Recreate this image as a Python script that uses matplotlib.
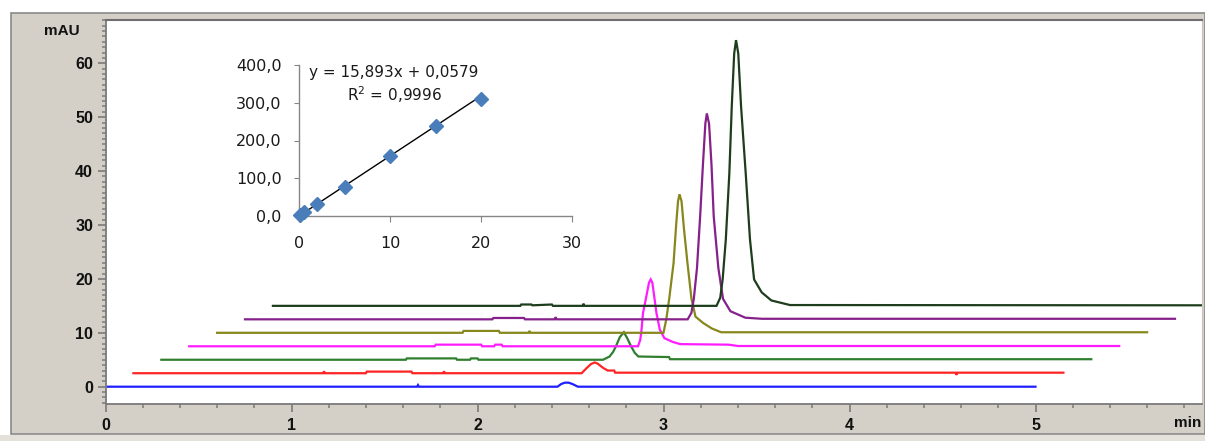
import numpy as np
import matplotlib.pyplot as plt
from matplotlib.patches import Rectangle

# chromatogram traces, run time (min) and signal above own baseline (mAU)
blue_t = [0, 1.675, 1.68, 1.685, 2.43, 2.45, 2.47, 2.49, 2.51, 2.54, 5.0]
blue_y = [0, 0, 0.3, 0, 0, 0.5, 0.75, 0.75, 0.5, 0, 0]

red_t = [0, 1.02, 1.025, 1.03, 1.25, 1.255, 1.495, 1.50, 1.665, 1.67, 1.675,
         2.41, 2.435, 2.46, 2.48, 2.495, 2.525, 2.55, 2.585, 2.59, 4.42, 4.425, 4.43, 5.0]
red_y = [0, 0, 0.35, 0, 0, 0.3, 0.3, 0, 0, 0.35, 0,
         0, 0.9, 1.7, 2.0, 1.8, 1.0, 0.5, 0.5, 0.1, 0.1, -0.3, 0.1, 0.1]

green_t = [0, 1.315, 1.32, 1.585, 1.59, 1.66, 1.665, 1.70, 1.705,
           2.375, 2.41, 2.43, 2.445, 2.465, 2.487, 2.505, 2.525, 2.545, 2.565, 2.73, 2.735, 5.0]
green_y = [0, 0, 0.25, 0.25, 0, 0, 0.25, 0.25, 0,
           0, 0.6, 1.5, 2.55, 4.2, 5.1, 4.0, 2.55, 1.3, 0.6, 0.5, 0.1, 0.1]

magenta_t = [0, 1.32, 1.325, 1.57, 1.575, 1.64, 1.645, 1.68, 1.685,
             2.413, 2.425, 2.432, 2.44, 2.458, 2.472, 2.481, 2.49, 2.50, 2.512, 2.53, 2.555,
             2.60, 2.64, 2.90, 2.95, 5.0]
magenta_y = [0, 0, 0.3, 0.3, 0, 0, 0.3, 0.3, 0,
             0, 1.2, 3.1, 6.2, 9.3, 11.8, 12.4, 11.8, 9.3, 6.2, 3.1, 1.5,
             0.8, 0.4, 0.3, 0.05, 0.05]

olive_t = [0, 1.32, 1.325, 1.515, 1.52, 1.675, 1.68, 1.685,
           2.40, 2.415, 2.431, 2.454, 2.468, 2.478, 2.486, 2.497, 2.51, 2.529, 2.55, 2.572,
           2.614, 2.66, 2.71, 5.0]
olive_y = [0, 0, 0.35, 0.35, 0, 0, 0.35, 0,
           0, 2.5, 6.4, 12.9, 20.0, 24.4, 25.7, 24.4, 19.3, 12.9, 6.4, 3.0,
           1.8, 0.8, 0.1, 0.1]

purple_t = [0, 1.33, 1.335, 1.50, 1.505, 1.665, 1.67, 1.675,
            2.38, 2.40, 2.413, 2.43, 2.447, 2.462, 2.475, 2.483, 2.495, 2.508, 2.52, 2.545,
            2.57, 2.61, 2.69, 2.78, 5.0]
purple_y = [0, 0, 0.25, 0.25, 0, 0, 0.4, 0,
            0, 1.2, 3.8, 9.5, 19.1, 28.7, 36.3, 38.2, 36.3, 28.7, 19.1, 9.5,
            3.8, 1.5, 0.3, 0.1, 0.1]

dkgreen_t = [0, 1.33, 1.335, 1.39, 1.395, 1.50, 1.505, 1.665, 1.67, 1.675,
             2.385, 2.405, 2.418, 2.435, 2.454, 2.467, 2.48, 2.49, 2.502, 2.517, 2.542,
             2.565, 2.587, 2.628, 2.68, 2.78, 5.0]
dkgreen_y = [0, 0, 0.25, 0.25, 0.1, 0.25, 0, 0, 0.4, 0,
             0, 1.5, 4.9, 12.3, 24.6, 37.0, 46.8, 49.3, 46.8, 37.0, 24.6,
             12.3, 4.9, 2.5, 1.0, 0.15, 0.1]

traces = [(blue_t, blue_y), (red_t, red_y), (green_t, green_y), (magenta_t, magenta_y),
          (olive_t, olive_y), (purple_t, purple_y), (dkgreen_t, dkgreen_y)]
x_shift = [0, 0.15, 0.30, 0.45, 0.60, 0.75, 0.90]
y_shift = [0, 2.5, 5.0, 7.5, 10.0, 12.5, 15.0]
colors = ['#1f1fff', '#ff2424', '#2f7f2f', '#ff1cff', '#87871e', '#86208a', '#1d3d1d']

# calibration inset
conc = [0.1, 0.5, 2, 5, 10, 15, 20]
area = [2.0, 9.5, 31.0, 76.0, 158.0, 239.0, 311.0]
slope, intercept = 15.893, 0.0579
eq_text = 'y = 15,893x + 0,0579'
r2_text = 'R$^2$ = 0,9996'

W, H = 1205, 441
fig = plt.figure(figsize=(W / 100, H / 100), dpi=100)
fig.patch.set_facecolor('white')

def fx(px):
    return px / W

def fy(py):
    return 1 - py / H

# grey instrument panel
fig.patches.append(Rectangle((fx(11), fy(434)), fx(1205) - fx(11), fy(13) - fy(434),
                             transform=fig.transFigure, facecolor='#d4d0c8',
                             edgecolor='#8a8a8a', lw=1.2, zorder=-10))
fig.patches.append(Rectangle((0, 0), 1, fy(435), transform=fig.transFigure,
                             facecolor='#e4e1da', edgecolor='none', zorder=-10))

ax = fig.add_axes([fx(105.5), fy(404), fx(1202) - fx(105.5), fy(19.5) - fy(404)])
ax.set_facecolor('white')
for (t, y), dx, dy, c in zip(traces, x_shift, y_shift, colors):
    ax.plot(np.array(t) + dx, np.array(y) + dy, color=c, lw=1.6, solid_joinstyle='miter')

ax.set_xlim(0, (1202 - 105.5) / 186)
ax.set_ylim(-(404 - 386.7) / 5.39, (386.7 - 19.5) / 5.39)
ax.set_xticks(range(6))
ax.set_xticks(np.arange(0, 5.9, 0.2), minor=True)
ax.set_yticks(range(0, 61, 10))
ax.set_yticks(range(-3, 69), minor=True)
for s in ['left', 'bottom']:
    ax.spines[s].set_color('#7a7a7a')
    ax.spines[s].set_linewidth(1.3)
ax.spines['top'].set_color('#6e6e6e')
ax.spines['top'].set_linewidth(1.5)
ax.spines['right'].set_color('#c8c5bd')
ax.tick_params(which='major', length=6, width=1.2, color='#7a7a7a',
               labelsize=11.5, pad=3)
ax.tick_params(which='minor', length=3, width=1.1, color='#7a7a7a')
ax.tick_params(axis='x', which='major', pad=4)
for lab in ax.get_xticklabels() + ax.get_yticklabels():
    lab.set_family('Liberation Sans')
    lab.set_weight('bold')
    lab.set_color('#111111')

fig.text(fx(62), fy(31), 'mAU', ha='center', va='center', family='Liberation Sans',
         weight='bold', size=11, color='#111111')
fig.text(fx(1201), fy(423), 'min', ha='right', va='center', family='Liberation Sans',
         weight='bold', size=11, color='#111111')

# inset calibration curve
ins = fig.add_axes([fx(299), fy(216), fx(572) - fx(299), fy(65) - fy(216)])
ins.set_facecolor('none')
xl = np.array([0, 20])
ins.plot(xl, slope * xl + intercept, color='black', lw=1.0, zorder=2)
ins.plot(conc, area, linestyle='none', marker='D', markersize=7.5, color='#4a7ebb',
         markeredgecolor='#4a7ebb', zorder=3, clip_on=False)
ins.set_xlim(0, 30)
ins.set_ylim(0, 400)
ins.set_xticks([0, 10, 20, 30])
ins.set_yticks([0, 100, 200, 300, 400])
ins.set_yticklabels([f'{v:.1f}'.replace('.', ',') for v in [0, 100, 200, 300, 400]])
for s in ['top', 'right']:
    ins.spines[s].set_visible(False)
for s in ['left', 'bottom']:
    ins.spines[s].set_color('#868686')
    ins.spines[s].set_linewidth(1.0)
ins.tick_params(axis='y', length=3.5, color='#868686', pad=9, labelsize=11.5,
                labelcolor='#1a1a1a')
ins.tick_params(axis='x', length=4.5, color='#868686', pad=10, labelsize=11.5,
                labelcolor='#1a1a1a')
for lab in ins.get_xticklabels() + ins.get_yticklabels():
    lab.set_family('DejaVu Sans')

fig.text(fx(394), fy(72), eq_text, ha='center', va='center', size=11, color='#1a1a1a')
fig.text(fx(394.5), fy(94.5), r2_text, ha='center', va='center', size=11, color='#1a1a1a')

fig.savefig('out.png', dpi=100)
